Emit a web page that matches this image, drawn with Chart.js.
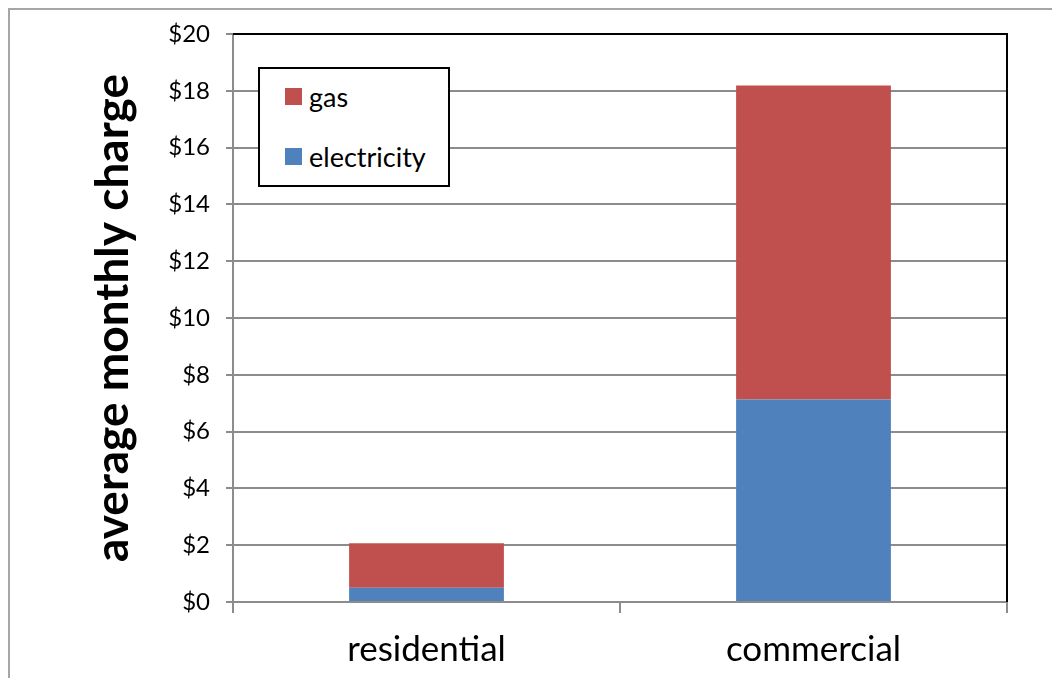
<!DOCTYPE html>
<html>
<head>
<meta charset="utf-8">
<script src="https://cdn.jsdelivr.net/npm/chart.js@4.4.1/dist/chart.umd.min.js"></script>
<style>
  html, body { margin: 0; padding: 0; background: #fff; }
  body { width: 1052px; height: 678px; position: relative; overflow: hidden; font-family: Lato, "Open Sans", sans-serif; }
  #frame { position: absolute; left: 8px; top: 8px; width: 1200px; height: 800px; border-left: 2px solid #a6a6a6; border-top: 2px solid #a6a6a6; }
  #wrap { position: absolute; left: 0; top: 0; width: 1052px; height: 678px; }
  #legend { position: absolute; left: 258px; top: 67px; width: 192px; height: 120px; border: 2px solid #000; background: #fff; box-sizing: border-box; padding: 12px 0 0 25px; }
  .item { display: flex; align-items: center; height: 30px; margin-bottom: 30px; font-size: 27px; color: #000; }
  .sw { width: 17px; height: 17px; margin-right: 7px; }
</style>
</head>
<body>
<div id="frame"></div>
<div id="wrap"><canvas id="c" width="1052" height="678"></canvas></div>
<div id="legend"></div>
<script>
// Average monthly charge by customer type, split by utility
const categories = ['residential', 'commercial'];
const electricity = [0.5, 7.13];
const gas = [1.57, 11.06];
const yTicks = [0, 2, 4, 6, 8, 10, 12, 14, 16, 18, 20];

const RED = '#C0504D';
const BLUE = '#4F81BD';
const GRID = '#8c8c8c';

// Black top and right edges of the plot area
const plotBorder = {
  id: 'plotBorder',
  afterDraw(chart) {
    const { ctx, chartArea: a } = chart;
    ctx.save();
    ctx.strokeStyle = '#000';
    ctx.lineWidth = 2;
    ctx.beginPath();
    ctx.moveTo(a.left, a.top);
    ctx.lineTo(a.right, a.top);
    ctx.lineTo(a.right, a.bottom);
    ctx.stroke();
    ctx.restore();
  }
};

const chart = new Chart(document.getElementById('c'), {
  type: 'bar',
  data: {
    labels: categories,
    datasets: [
      { label: 'electricity', data: electricity, backgroundColor: BLUE },
      { label: 'gas', data: gas, backgroundColor: RED }
    ]
  },
  options: {
    responsive: false,
    animation: false,
    layout: { padding: { left: 0, right: 45, top: 34, bottom: 0 } },
    plugins: { legend: { display: false }, tooltip: { enabled: false } },
    datasets: { bar: { barPercentage: 1, categoryPercentage: 0.4 } },
    scales: {
      x: {
        stacked: true,
        offset: true,
        grid: { offset: true, drawOnChartArea: false, color: GRID, lineWidth: 2, tickLength: 11 },
        border: { color: GRID, width: 2 },
        ticks: { color: '#000', font: { family: 'Lato', size: 35 }, padding: 16 },
        afterFit(s) { s.height = 76; }
      },
      y: {
        stacked: true,
        min: 0,
        max: 20,
        afterBuildTicks(s) { s.ticks = yTicks.map(v => ({ value: v })); },
        grid: { color: GRID, lineWidth: 2, tickLength: 7 },
        border: { color: GRID, width: 2 },
        ticks: {
          color: '#000',
          font: { family: 'Lato', size: 24 },
          padding: 16,
          callback: v => '$' + v
        },
        title: {
          display: true,
          text: 'average monthly charge',
          color: '#000',
          font: { family: 'Lato', size: 46, weight: 'bold' },
          padding: { top: 86, bottom: 0 }
        },
        afterFit(s) { s.width = 233; }
      }
    }
  },
  plugins: [plotBorder]
});

// Legend box: gas listed above electricity
const legend = document.getElementById('legend');
[...chart.data.datasets].reverse().forEach(ds => {
  const row = document.createElement('div');
  row.className = 'item';
  const sw = document.createElement('span');
  sw.className = 'sw';
  sw.style.background = ds.backgroundColor;
  const tx = document.createElement('span');
  tx.textContent = ds.label;
  row.appendChild(sw);
  row.appendChild(tx);
  legend.appendChild(row);
});
</script>
</body>
</html>
